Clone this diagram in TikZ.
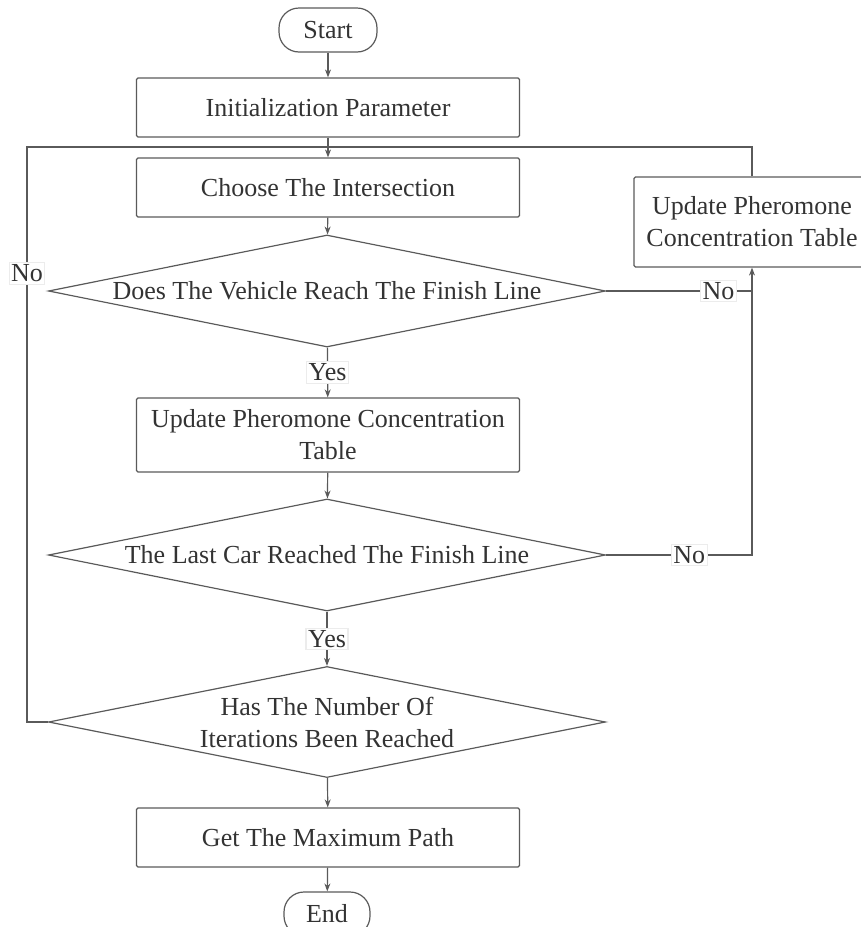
\documentclass[tikz,border=0pt]{standalone}
\usepackage{fontspec}
\setmainfont{Liberation Serif}
\usetikzlibrary{shapes.geometric,arrows.meta}
\definecolor{linegray}{HTML}{5A5A5A}
\definecolor{textgray}{HTML}{333333}
\tikzset{
	flow/.style={draw=linegray, line width=1.2pt, text=textgray, font=\fontsize{26}{32}\selectfont, align=center, inner sep=0pt},
	procbox/.style={flow, rectangle, rounded corners=1.5pt, minimum width=383pt, minimum height=59pt},
	termbox/.style={flow, rectangle, rounded corners=20pt, minimum height=44pt},
	decbox/.style={flow, diamond, aspect=4.93, minimum width=557pt, minimum height=112pt},
	answer/.style={fill=white, draw=gray!15, text=textgray, font=\fontsize{26}{32}\selectfont, inner sep=2pt},
	link/.style={draw=linegray, line width=1.2pt, >={Stealth[length=8pt,width=6pt]}}
}
\begin{document}
\begin{tikzpicture}[x=1pt,y=-1pt]
	\useasboundingbox (0,0) rectangle (861,927);
	
	\node[termbox, minimum width=98pt] (start) at (328,30) {Start};
	\node[procbox] (init) at (328,107.5) {Initialization Parameter};
	\node[procbox] (choose) at (328,187.5) {Choose The Intersection};
	\node[decbox] (reach) at (327,291) {Does The Vehicle Reach The Finish Line};
	\node[procbox, minimum height=74pt] (update) at (328,435) {Update Pheromone Concentration\\Table};
	\node[decbox] (last) at (327,555) {The Last Car Reached The Finish Line};
	\node[decbox, minimum height=111pt] (iter) at (327,722) {Has The Number Of\\Iterations Been Reached};
	\node[procbox] (get) at (328,837.5) {Get The Maximum Path};
	\node[termbox, minimum width=86pt] (end) at (327,914) {End};
	\node[flow, rectangle, rounded corners=1.5pt, minimum width=236pt, minimum height=90pt] (updright) at (752,222) {Update Pheromone\\Concentration Table};
	
	\coordinate (loop) at (328,147);
	\coordinate (leftcorner) at (27,722);
	\coordinate (rightjoin) at (752,291);
	\coordinate (rightcorner) at (752,555);
	
	\draw[link,->] (start) -- (init);
	\draw[link,->] (init) -- (choose);
	\draw[link,->] (choose) -- (reach);
	\draw[link,->] (reach) -- node[answer]{Yes} (update);
	\draw[link,->] (update) -- (last);
	\draw[link,->] (last) -- node[answer]{Yes} (iter);
	\draw[link,->] (iter) -- (get);
	\draw[link,->] (get) -- (end);
	
	\draw[link] (reach.east) -- node[answer, pos=0.77]{No} (rightjoin);
	\draw[link,->] (last.east) -- node[answer, pos=0.57]{No} (rightcorner) -- (updright.south);
	\draw[link] (updright.north) |- (loop);
	\draw[link] (iter.west) -- (leftcorner) |- node[answer, pos=0.39]{No} (loop);
\end{tikzpicture}
\end{document}
